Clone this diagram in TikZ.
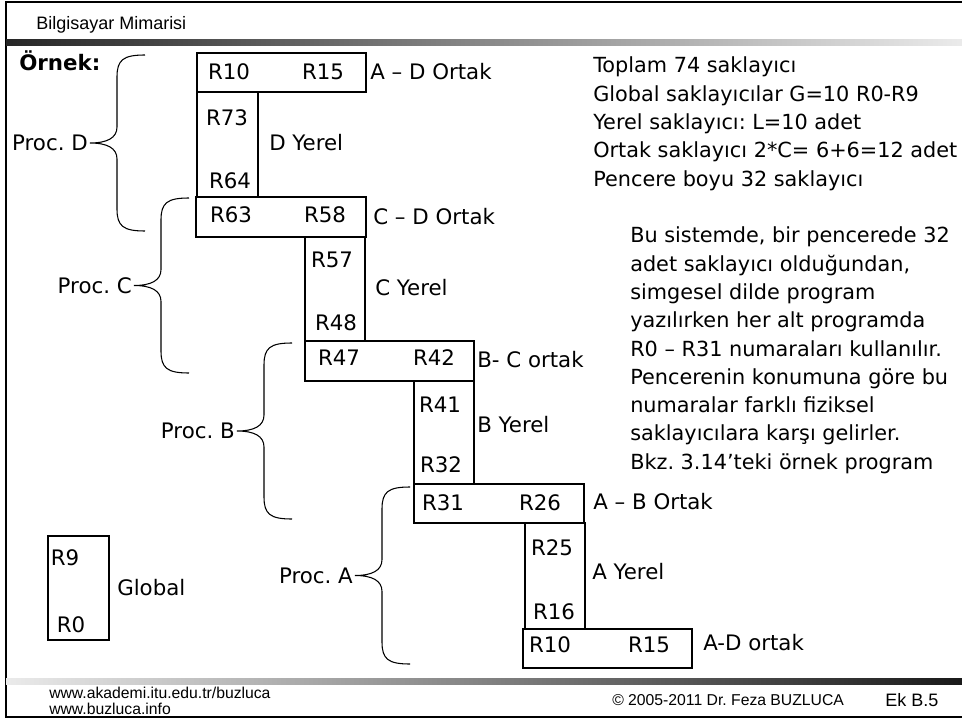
\documentclass[tikz,border=0pt]{standalone}
\usepackage{fontspec}
\setmainfont{DejaVu Sans}
\newfontfamily\arialfont{Liberation Sans}
\begin{document}
\frenchspacing
\begin{tikzpicture}[x=0.75pt, y=-0.75pt,
  every node/.style={font=\fontsize{16}{21}\selectfont, inner sep=0pt},
  reg/.style={text height=11.7pt, text depth=0pt},
  lbl/.style={anchor=west, text height=11.7pt, text depth=0pt},
  notes/.style={lbl, font=\fontsize{15.6}{21}\selectfont},
  regbox/.style={line width=0.8pt},
  brc/.style={line width=0.8pt},
  foot/.style={anchor=west, font=\arialfont\fontsize{11.8}{14}\selectfont, text height=8.4pt, text depth=0pt}]

  \useasboundingbox (0,0) rectangle (962,720);

  % slide frame and bars
  \draw[line width=1.5pt] (962,2) -- (6,2) -- (6,717) -- (962,717);
  \shade[left color=black!85, right color=black!8] (6,40) rectangle (962,46);
  \shade[left color=black!8, right color=black!90] (6,678) rectangle (962,684);
  \node[foot, font=\arialfont\fontsize{13.5}{15}\selectfont, text height=9.7pt] (title) at (36,23) {Bilgisayar Mimarisi};
  \node[foot] (url1) at (49,693) {www.akademi.itu.edu.tr/buzluca};
  \node[foot] (url2) at (49,709) {www.buzluca.info};
  \node[foot] (copy) at (612,700) {© 2005-2011  Dr. Feza BUZLUCA};
  \node[foot, font=\arialfont\fontsize{13.5}{15}\selectfont, text height=9.7pt] (page) at (885,700) {Ek B.5};

  \node[lbl, font=\bfseries\fontsize{16}{21}\selectfont] (ornek) at (19,63) {Örnek:};

  % register windows
  \draw[regbox] (197,53) rectangle (366,92);
  \draw[regbox] (197,92) rectangle (258,197);
  \draw[regbox] (196,197) rectangle (366,237);
  \draw[regbox] (305,237) rectangle (365,341);
  \draw[regbox] (305,341) rectangle (474,381);
  \draw[regbox] (414,381) rectangle (474,484);
  \draw[regbox] (414,484) rectangle (584,523);
  \draw[regbox] (525,523) rectangle (585,629);
  \draw[regbox] (523,629) rectangle (692,668);
  \draw[regbox] (48,536) rectangle (109,640);

  \node[reg] (r10a) at (229,72) {R10};
  \node[reg] (r15a) at (323,72) {R15};
  \node[lbl] (adtop) at (370,72) {A – D Ortak};
  \node[reg] (r73) at (227,118) {R73};
  \node[reg] (r64) at (230,181) {R64};
  \node[lbl] (dyer) at (269,143) {D Yerel};
  \node[reg] (r63) at (231,215) {R63};
  \node[reg] (r58) at (325,215) {R58};
  \node[lbl] (cd) at (373,217) {C – D Ortak};
  \node[reg] (r57) at (332,260) {R57};
  \node[reg] (r48) at (336,323) {R48};
  \node[lbl] (cyer) at (375,288) {C Yerel};
  \node[reg] (r47) at (339,358) {R47};
  \node[reg] (r42) at (434,358) {R42};
  \node[lbl] (bc) at (477,360) {B- C ortak};
  \node[reg] (r41) at (440,405) {R41};
  \node[reg] (r32) at (441,465) {R32};
  \node[lbl] (byer) at (477,425) {B Yerel};
  \node[reg] (r31) at (443,503) {R31};
  \node[reg] (r26) at (540,503) {R26};
  \node[lbl] (ab) at (593,502) {A – B Ortak};
  \node[reg] (r25) at (552,548) {R25};
  \node[reg] (r16) at (554,612) {R16};
  \node[lbl] (ayer) at (592,572) {A Yerel};
  \node[reg] (r10b) at (550,645) {R10};
  \node[reg] (r15b) at (649,645) {R15};
  \node[lbl] (adbot) at (703,643) {A-D ortak};
  \node[reg] (r9) at (65,558) {R9};
  \node[reg] (r0) at (71,625) {R0};
  \node[lbl] (glob) at (117,588) {Global};

  % procedure braces
  \foreach \s/\a/\b/\nm/\txt in {117/55/231/procD/{Proc. D}, 161/198/373/procC/{Proc. C},
      264/343/519/procB/{Proc. B}, 382/487/664/procA/{Proc. A}}{
    \pgfmathsetmacro\m{(\a+\b)/2}
    \draw[brc] (\s+28,\a) .. controls (\s+6,\a) and (\s,\a+5) .. (\s,\a+22)
      -- (\s,\m-16) .. controls (\s,\m-5) and (\s-10,\m) .. (\s-27,\m)
      .. controls (\s-10,\m) and (\s,\m+5) .. (\s,\m+16)
      -- (\s,\b-22) .. controls (\s,\b-5) and (\s+6,\b) .. (\s+28,\b);
    \node[lbl, anchor=east] (\nm) at (\s-29,\m) {\txt};
  }

  % notes
  \foreach \t [count=\i] in {Toplam 74 saklayıcı, Global saklayıcılar G=10 R0-R9,
      Yerel saklayıcı: L=10 adet, Ortak saklayıcı 2*C= 6+6=12 adet, Pencere boyu 32 saklayıcı}
    \node[notes] (sum\i) at (593,{65+28.3*(\i-1)}) {\t};
  \foreach \t [count=\i] in {{Bu sistemde, bir pencerede 32}, {adet saklayıcı olduğundan,},
      simgesel dilde program, yazılırken her alt programda, R0 – R31 numaraları kullanılır.,
      Pencerenin konumuna göre bu, numaralar farklı fiziksel, saklayıcılara karşı gelirler.,
      Bkz. 3.14’teki örnek program}
    \node[notes] (note\i) at (630,{235+28.3*(\i-1)}) {\t};
\end{tikzpicture}
\end{document}
